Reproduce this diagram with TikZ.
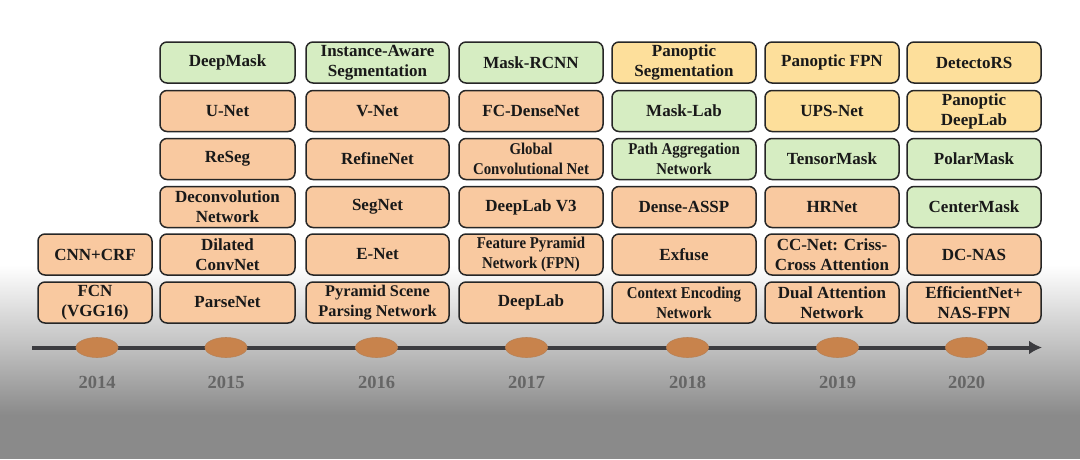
\documentclass[tikz,border=0pt]{standalone}
\usepackage{fontspec}
\setmainfont{Liberation Serif}
\newfontfamily\narrowserif[FakeStretch=0.9]{Liberation Serif}
\usepackage{tikz}
\usetikzlibrary{arrows.meta}
\usetikzlibrary{calc}
\usetikzlibrary{shapes.geometric}
\definecolor{BoxPeach}{HTML}{F9C9A0}
\definecolor{BoxGreen}{HTML}{D6EDC2}
\definecolor{BoxYellow}{HTML}{FDDF9B}
\definecolor{DotBrown}{HTML}{C8834C}
\definecolor{LineGray}{HTML}{3C3C40}
\definecolor{YearGray}{HTML}{666666}
\definecolor{BgGray}{HTML}{8A8A8A}
\definecolor{BgMid}{HTML}{C2C2C2}

\begin{document}
\begin{tikzpicture}[x=1pt,y=-1pt,
    box/.style={draw=black!85,line width=1.5pt,rounded corners=7pt,minimum height=41pt,inner sep=1pt,align=center,text=black!90,font=\bfseries\fontsize{17}{20}\selectfont},
    pch/.style={box,fill=BoxPeach},
    grn/.style={box,fill=BoxGreen},
    ylw/.style={box,fill=BoxYellow},
    small/.style={font=\narrowserif\bfseries\fontsize{16.5}{20}\selectfont},
    c14/.style={minimum width=114pt},
    c15/.style={minimum width=135pt},
    c16/.style={minimum width=143pt},
    c17/.style={minimum width=144pt},
    c18/.style={minimum width=144pt},
    c19/.style={minimum width=134pt},
    c20/.style={minimum width=134pt},
    dot/.style={ellipse,fill=DotBrown,draw=DotBrown!80!gray,line width=0.6pt,minimum width=42pt,minimum height=20pt,inner sep=0pt},
    year/.style={text=YearGray,font=\bfseries\fontsize{18.5}{20}\selectfont}]
      % background
      \useasboundingbox (0,0) rectangle (1080,459);
      \fill[white] (0,0) rectangle (1080,265);
      \shade[top color=white,bottom color=BgMid] (0,265) rectangle (1080,345);
      \shade[top color=BgMid,bottom color=BgGray] (0,345) rectangle (1080,415);
      \fill[BgGray] (0,415) rectangle (1080,459);
      % 2014
      \node[pch,c14] (cnncrf) at (95,254.5) {CNN+CRF};
      \node[pch,c14] (fcn) at (95,302.5) {FCN\\(VGG16)};
      % 2015
      \node[grn,c15] (deepmask) at (227.5,62.5) {DeepMask};
      \node[pch,c15] (unet) at (227.5,111) {U-Net};
      \node[pch,c15] (reseg) at (227.5,159) {ReSeg};
      \node[pch,c15] (deconv) at (227.5,207) {Deconvolution\\Network};
      \node[pch,c15] (dilated) at (227.5,254.5) {Dilated\\ConvNet};
      \node[pch,c15] (parsenet) at (227.5,302.5) {ParseNet};
      % 2016
      \node[grn,c16] (instaware) at (377.5,62.5) {Instance-Aware\\Segmentation};
      \node[pch,c16] (vnet) at (377.5,111) {V-Net};
      \node[pch,c16] (refinenet) at (377.5,159) {RefineNet};
      \node[pch,c16] (segnet) at (377.5,207) {SegNet};
      \node[pch,c16] (enet) at (377.5,254.5) {E-Net};
      \node[pch,c16,font=\bfseries\fontsize{16.3}{20}\selectfont] (pspnet) at (377.5,302.5) {Pyramid Scene\\Parsing Network};
      % 2017
      \node[grn,c17] (maskrcnn) at (531,62.5) {Mask-RCNN};
      \node[pch,c17] (fcdense) at (531,111) {FC-DenseNet};
      \node[pch,c17,small] (gcn) at (531,159) {Global\\Convolutional Net};
      \node[pch,c17] (dlv3) at (531,207) {DeepLab V3};
      \node[pch,c17,small] (fpn) at (531,254.5) {Feature Pyramid\\Network (FPN)};
      \node[pch,c17] (deeplab) at (531,302.5) {DeepLab};
      % 2018
      \node[ylw,c18] (panseg) at (684,62.5) {Panoptic\\Segmentation};
      \node[grn,c18] (masklab) at (684,111) {Mask-Lab};
      \node[grn,c18,small] (panet) at (684,159) {Path Aggregation\\Network};
      \node[pch,c18] (denseassp) at (684,207) {Dense-ASSP};
      \node[pch,c18] (exfuse) at (684,254.5) {Exfuse};
      \node[pch,c18,small] (encnet) at (684,302.5) {Context Encoding\\Network};
      % 2019
      \node[ylw,c19] (panfpn) at (832,62.5) {Panoptic FPN};
      \node[ylw,c19] (upsnet) at (832,111) {UPS-Net};
      \node[grn,c19] (tensormask) at (832,159) {TensorMask};
      \node[pch,c19] (hrnet) at (832,207) {HRNet};
      \node[pch,c19] (ccnet) at (832,254.5) {CC-Net: Criss-\\Cross Attention};
      \node[pch,c19] (danet) at (832,302.5) {Dual Attention\\Network};
      % 2020
      \node[ylw,c20] (detectors) at (974,62.5) {DetectoRS};
      \node[ylw,c20] (pandeeplab) at (974,111) {Panoptic\\DeepLab};
      \node[grn,c20] (polarmask) at (974,159) {PolarMask};
      \node[grn,c20] (centermask) at (974,207) {CenterMask};
      \node[pch,c20] (dcnas) at (974,254.5) {DC-NAS};
      \node[pch,c20] (effnet) at (974,302.5) {EfficientNet+\\NAS-FPN};
      % timeline
      \coordinate (tstart) at (32,347.5);
      \coordinate (tend) at (1042,347.5);
      \draw[LineGray,line width=4pt,-{Latex[length=13pt,width=14pt]}] (tstart) -- (tend);
      \node[dot] (d14) at (97,347.5) {};
      \node[dot] (d15) at (226,347.5) {};
      \node[dot] (d16) at (376.5,347.5) {};
      \node[dot] (d17) at (526.5,347.5) {};
      \node[dot] (d18) at (687.5,347.5) {};
      \node[dot] (d19) at (837.5,347.5) {};
      \node[dot] (d20) at (966.5,347.5) {};
      \node[year] (y14) at (97,382) {2014};
      \node[year] (y15) at (226,382) {2015};
      \node[year] (y16) at (376.5,382) {2016};
      \node[year] (y17) at (526.5,382) {2017};
      \node[year] (y18) at (687.5,382) {2018};
      \node[year] (y19) at (837.5,382) {2019};
      \node[year] (y20) at (966.5,382) {2020};
    \end{tikzpicture}
\end{document}
